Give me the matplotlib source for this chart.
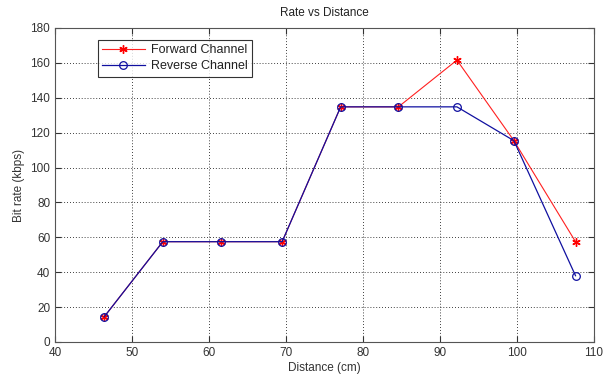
import matplotlib
matplotlib.use("Agg")
import matplotlib.pyplot as plt

distance = [46.4, 54.0, 61.6, 69.5, 77.1, 84.6, 92.2, 99.6, 107.6]
forward = [14.5, 57.5, 57.5, 57.5, 134.8, 134.8, 161.6, 115.4, 57.5]
reverse = [14.5, 57.5, 57.5, 57.5, 134.8, 134.8, 134.8, 115.4, 38.0]
xticks = [40, 50, 60, 70, 80, 90, 100, 110]
yticks = [0, 20, 40, 60, 80, 100, 120, 140, 160, 180]

plt.rcParams['font.family'] = ['Liberation Sans', 'DejaVu Sans']

fig = plt.figure(figsize=(6.07, 3.79), dpi=100)
ax = fig.add_axes([55/607, 37/379, (594-55)/607, (342-28)/379])

ax.plot(distance, forward, color='#ff2020', lw=0.8, marker=(6, 2, 0), ms=6,
        mew=1.0, mec='#ff0000', mfc='#ff0000', label='Forward Channel')
ax.plot(distance, reverse, color='#1010a0', lw=0.9, marker='o', ms=5.5,
        mew=0.9, mec='#1010a0', mfc='none', label='Reverse Channel')

ax.set_xlim(40, 110)
ax.set_ylim(0, 180)
ax.set_xticks(xticks)
ax.set_yticks(yticks)
ax.grid(True, color='black', linestyle=(0, (1, 2.5)), linewidth=0.6)
ax.tick_params(direction='in', length=4, labelsize=8.5, colors='#333333',
               top=True, right=True)
for s in ax.spines.values():
    s.set_color('#555555')
    s.set_linewidth(0.8)

ax.set_title('Rate vs Distance', fontsize=8.5, color='#222222', pad=9)
ax.set_xlabel('Distance (cm)', fontsize=8.5, color='#333333', labelpad=2)
ax.set_ylabel('Bit rate (kbps)', fontsize=8.5, color='#333333', labelpad=4)

leg = ax.legend(loc='upper left', bbox_to_anchor=(97.7/607, 1 - 40/379),
                bbox_transform=fig.transFigure, fontsize=9, frameon=True,
                fancybox=False, borderaxespad=0, handlelength=3.4,
                borderpad=0.35, labelspacing=0.3, handletextpad=0.5)
leg.get_frame().set_edgecolor('black')
leg.get_frame().set_linewidth(0.8)
for t in leg.get_texts():
    t.set_color('#222222')

fig.savefig('out.png', dpi=100)
